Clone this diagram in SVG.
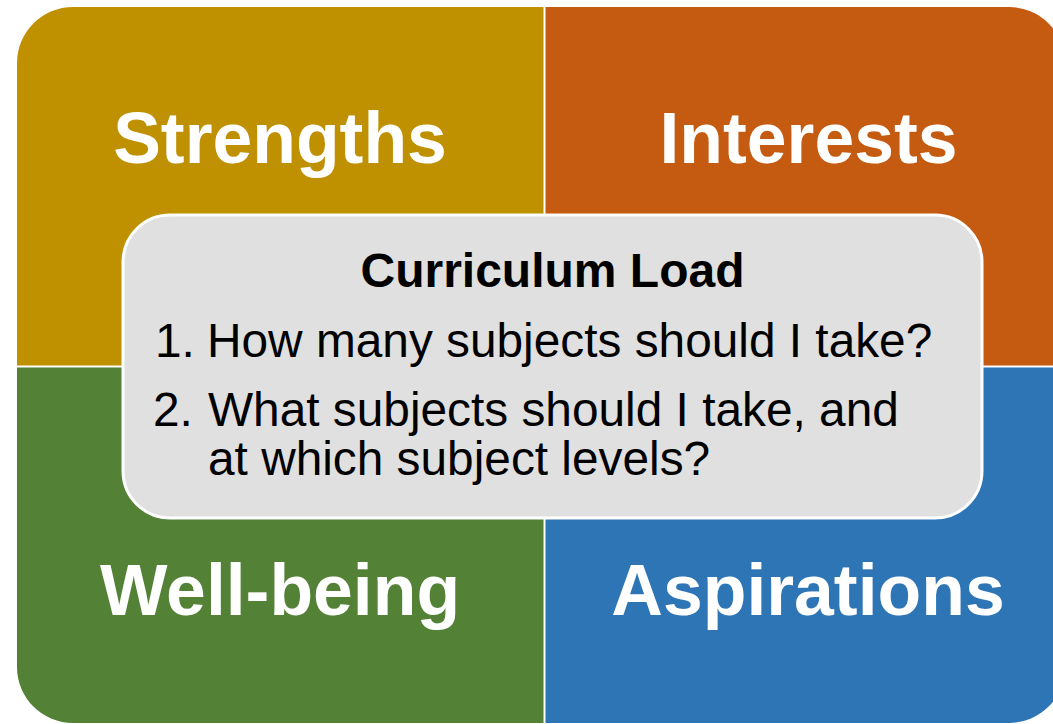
<svg xmlns="http://www.w3.org/2000/svg" width="1053" height="724" viewBox="0 0 1053 724">
  <style>
    .quad-label { font-family: "Liberation Sans", Arial, sans-serif; font-weight: bold; font-size: 71.5px; fill: #FFFFFF; text-anchor: middle; }
    .title { font-family: "Liberation Sans", Arial, sans-serif; font-weight: bold; font-size: 48px; fill: #000000; text-anchor: middle; }
    .item { font-family: "Liberation Sans", Arial, sans-serif; font-size: 47.8px; fill: #000000; }
  </style>
  <rect x="0" y="0" width="1053" height="724" fill="#FFFFFF"/>
  <g id="strengths">
    <path d="M17,63 A56,56 0 0 1 73,7 L543.5,7 L543.5,365.5 L17,365.5 Z" fill="#BF9000"/>
    <text class="quad-label" x="280" y="163">Strengths</text>
  </g>
  <g id="interests">
    <path d="M545.5,7 L1009,7 A56,56 0 0 1 1065,63 L1065,365.5 L545.5,365.5 Z" fill="#C55A11"/>
    <text class="quad-label" x="808.5" y="163">Interests</text>
  </g>
  <g id="well-being">
    <path d="M17,367.5 L543.5,367.5 L543.5,723 L73,723 A56,56 0 0 1 17,667 Z" fill="#538135"/>
    <text class="quad-label" x="280" y="615">Well-being</text>
  </g>
  <g id="aspirations">
    <path d="M545.5,367.5 L1065,367.5 L1065,667 A56,56 0 0 1 1009,723 L545.5,723 Z" fill="#2E75B6"/>
    <text class="quad-label" x="808" y="615">Aspirations</text>
  </g>
  <g id="curriculum-load">
    <rect x="123" y="215" width="859" height="303" rx="47" ry="47" fill="#E0E0E0" stroke="#FFFFFF" stroke-width="3"/>
    <text class="title" x="552.5" y="287">Curriculum Load</text>
    <text class="item" x="155" y="357">1.</text>
    <text class="item" x="207" y="357">How many subjects should I take?</text>
    <text class="item" x="153" y="426">2.</text>
    <text class="item" x="208" y="426">What subjects should I take, and</text>
    <text class="item" x="208" y="475">at which subject levels?</text>
  </g>
</svg>
